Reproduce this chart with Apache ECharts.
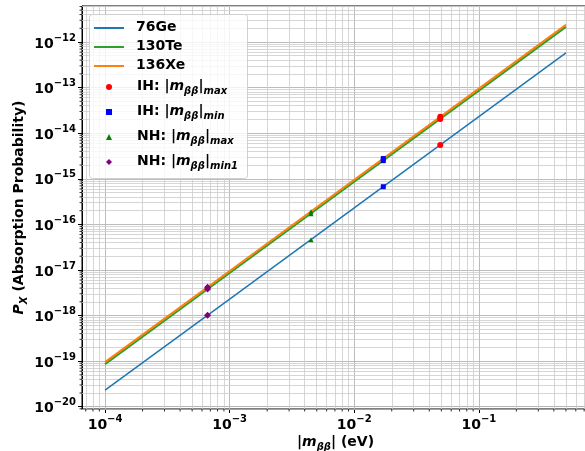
<!DOCTYPE html>
<html>
<head>
<meta charset="utf-8">
<script src="https://cdn.jsdelivr.net/npm/echarts@6/dist/echarts.min.js"></script>
<style>
  html, body { margin: 0; padding: 0; background: #fff; }
  #chart { width: 585px; height: 451px; }
</style>
</head>
<body>
<div id="chart"></div>
<script>
// |m_bb| values (eV) where each isotope curve is sampled
const massPoints = [1e-4, 1e-3, 1e-2, 1e-1, 0.5];
// Absorption probability P_X for each isotope
const ge76  = [2.3e-20, 2.3e-18, 2.3e-16, 2.3e-14, 5.75e-13];
const te130 = [8.6e-20, 8.6e-18, 8.6e-16, 8.6e-14, 2.15e-12];
const xe136 = [9.5e-20, 9.5e-18, 9.5e-16, 9.5e-14, 2.4e-12];

// Benchmark points: [|m_bb|, P_X] for 76Ge, 130Te, 136Xe
const ihMax  = [[0.049, 5.5e-15], [0.049, 2.06e-14], [0.049, 2.28e-14]];
const ihMin  = [[0.0171, 6.7e-16], [0.0171, 2.5e-15], [0.0171, 2.78e-15]];
const nhMax  = [[0.0045, 4.6e-17], [0.0045, 1.72e-16], [0.0045, 1.9e-16]];
const nhMin1 = [[6.65e-4, 1.02e-18], [6.65e-4, 3.8e-18], [6.65e-4, 4.2e-18]];

const lineNames = ['76Ge', '130Te', '136Xe'];
const pointNames = ['IH: |mββ|max', 'IH: |mββ|min', 'NH: |mββ|max', 'NH: |mββ|min1'];

// Axis ranges (log10 space)
const xLogRange = [-4.185, -0.116];
const yLogRange = [-20.05, -11.21];
const xMin = Math.pow(10, xLogRange[0]), xMax = Math.pow(10, xLogRange[1]);
const yMin = Math.pow(10, yLogRange[0]), yMax = Math.pow(10, yLogRange[1]);

const FONT = 'DejaVu Sans';

// Minor grid positions: 2..9 x 10^n inside each axis range
function minorValues(range) {
  const out = [];
  for (let e = Math.floor(range[0]); e <= Math.ceil(range[1]); e++) {
    for (let k = 2; k <= 9; k++) {
      const v = k * Math.pow(10, e);
      const lv = Math.log10(v);
      if (lv > range[0] && lv < range[1]) out.push(v);
    }
  }
  return out;
}

const tickRich = {
  b: { fontFamily: FONT, fontWeight: 'bold', fontSize: 14, color: '#000', lineHeight: 18, verticalAlign: 'bottom' },
  s: { fontFamily: FONT, fontWeight: 'bold', fontSize: 10, color: '#000', lineHeight: 10, verticalAlign: 'top' }
};
function powLabel(v) {
  const e = Math.round(Math.log10(v));
  return '{b|10}{s|' + (e < 0 ? '\u2212' : '') + Math.abs(e) + '}';
}

const mainTok = { fontFamily: FONT, fontWeight: 'bold', fontSize: 14, color: '#000', lineHeight: 16, verticalAlign: 'top' };
const subTok = { fontFamily: FONT, fontWeight: 'bold', fontStyle: 'italic', fontSize: 10, color: '#000', lineHeight: 11, padding: [7, 0, 0, 0], verticalAlign: 'top' };
const legendRichLines = {
  p: Object.assign({}, mainTok, { padding: [0, 0, 0, 7] })
};
const legendRichPoints = {
  p: Object.assign({}, mainTok, { padding: [0, 0, 0, 20] }),
  t: Object.assign({}, mainTok),
  m: Object.assign({}, mainTok, { fontStyle: 'italic' }),
  s: subTok
};
const legendText = {
  '76Ge': '{p|76Ge}',
  '130Te': '{p|130Te}',
  '136Xe': '{p|136Xe}',
  'IH: |mββ|max': '{p|IH: |}{m|m}{s|ββ}{t||}{s|max}',
  'IH: |mββ|min': '{p|IH: |}{m|m}{s|ββ}{t||}{s|min}',
  'NH: |mββ|max': '{p|NH: |}{m|m}{s|ββ}{t||}{s|max}',
  'NH: |mββ|min1': '{p|NH: |}{m|m}{s|ββ}{t||}{s|min1}'
};

function zip(xs, ys) { return xs.map((x, i) => [x, ys[i]]); }

const chart = echarts.init(document.getElementById('chart'), null, { renderer: 'canvas' });

const nameRich = {
  t: { fontFamily: FONT, fontWeight: 'bold', fontSize: 14, color: '#000', lineHeight: 16, verticalAlign: 'top' },
  m: { fontFamily: FONT, fontWeight: 'bold', fontStyle: 'italic', fontSize: 14, color: '#000', lineHeight: 16, verticalAlign: 'top' },
  s: subTok
};

// Minor grid lines as full-span segments in data coordinates
const minorX = minorValues(xLogRange);
const minorY = minorValues(yLogRange);
const minorGrid = minorX.map(v => [{ coord: [v, yMin] }, { coord: [v, yMax] }])
  .concat(minorY.map(v => [{ coord: [xMin, v] }, { coord: [xMax, v] }]));

// Short outward minor ticks on the bottom and left axes
const minorTickData = minorX.map(v => [v, yMin, 0]).concat(minorY.map(v => [xMin, v, 1]));
function renderMinorTick(params, api) {
  const p = api.coord([api.value(0), api.value(1)]);
  const onY = api.value(2) === 1;
  return {
    type: 'line',
    shape: onY ? { x1: p[0], y1: p[1], x2: p[0] - 2.5, y2: p[1] }
               : { x1: p[0], y1: p[1], x2: p[0], y2: p[1] + 2.5 },
    style: { stroke: '#000', lineWidth: 0.8 }
  };
}

const option = {
  animation: false,
  backgroundColor: '#fff',
  grid: { left: 82, top: 6, right: -4, bottom: 42, outerBoundsMode: 'none', containLabel: false,
          show: true, borderColor: '#000', borderWidth: 1, backgroundColor: 'transparent' },
  graphic: [{
    type: 'rect', left: 89, top: 14, z: 50,
    shape: { width: 158, height: 164, r: 3 },
    style: { fill: 'rgba(255,255,255,0.8)', stroke: '#d0d0d0', lineWidth: 1 }
  }],
  legend: [{
    data: lineNames.map(n => ({ name: n, icon: 'rect' })),
    orient: 'vertical', left: 94, top: 20, padding: 0,
    itemWidth: 30, itemHeight: 2, itemGap: 5, z: 60,
    formatter: n => legendText[n],
    textStyle: { rich: legendRichLines }
  }, {
    data: pointNames, orient: 'vertical', left: 106, top: 79, padding: 0,
    itemWidth: 6, itemHeight: 6, itemGap: 8, z: 60,
    formatter: n => legendText[n],
    textStyle: { rich: legendRichPoints }
  }],
  xAxis: {
    type: 'log', logBase: 10, min: xMin, max: xMax, splitNumber: 4,
    name: '{t||}{m|m}{s|ββ}{t|| (eV)}',
    nameLocation: 'middle', nameGap: 26, nameMoveOverlap: false,
    nameTextStyle: { rich: nameRich },
    axisLine: { show: true, lineStyle: { color: '#000', width: 1 } },
    axisTick: { show: true, inside: false, length: 4, lineStyle: { color: '#000' } },
    axisLabel: { margin: 5, showMinLabel: false, showMaxLabel: false, formatter: powLabel, rich: tickRich },
    splitLine: { show: true, lineStyle: { color: '#b4b4b4', width: 0.9 } }
  },
  yAxis: {
    type: 'log', logBase: 10, min: yMin, max: yMax, splitNumber: 9,
    name: '{m|P}{s|X}{t| (Absorption Probability)}',
    nameLocation: 'middle', nameGap: 54, nameRotate: 90, nameMoveOverlap: false,
    nameTextStyle: { rich: nameRich },
    axisLine: { show: true, lineStyle: { color: '#000', width: 1 } },
    axisTick: { show: true, inside: false, length: 4, lineStyle: { color: '#000' } },
    axisLabel: { margin: 6, showMinLabel: false, showMaxLabel: false, formatter: powLabel, rich: tickRich },
    splitLine: { show: true, lineStyle: { color: '#b4b4b4', width: 0.9 } }
  },
  series: [
    {
      name: 'minor-grid', type: 'line', data: [], z: 1, silent: true,
      markLine: {
        z: 1, silent: true, symbol: 'none', label: { show: false }, animation: false,
        lineStyle: { color: '#cccccc', width: 0.8, type: 'solid' },
        data: minorGrid
      }
    },
    {
      name: 'minor-ticks', type: 'custom', data: minorTickData, silent: true, clip: false, z: 5,
      encode: { x: 0, y: 1 },
      renderItem: renderMinorTick
    },
    { name: '76Ge', type: 'line', data: zip(massPoints, ge76), symbol: 'none', z: 3,
      lineStyle: { color: '#1f77b4', width: 1.5 }, itemStyle: { color: '#1f77b4' } },
    { name: '130Te', type: 'line', data: zip(massPoints, te130), symbol: 'none', z: 3,
      lineStyle: { color: '#2ca02c', width: 2 }, itemStyle: { color: '#2ca02c' } },
    { name: '136Xe', type: 'line', data: zip(massPoints, xe136), symbol: 'none', z: 3,
      lineStyle: { color: '#ff7f0e', width: 2 }, itemStyle: { color: '#ff7f0e' } },
    { name: pointNames[0], type: 'scatter', data: ihMax, symbol: 'circle', symbolSize: 6, z: 4,
      itemStyle: { color: '#ff0000', opacity: 1 } },
    { name: pointNames[1], type: 'scatter', data: ihMin, symbol: 'rect', symbolSize: 5, z: 4,
      itemStyle: { color: '#0000ff', opacity: 1 } },
    { name: pointNames[2], type: 'scatter', data: nhMax, symbol: 'triangle', symbolSize: 5, z: 4,
      itemStyle: { color: '#008000', opacity: 1 } },
    { name: pointNames[3], type: 'scatter', data: nhMin1, symbol: 'diamond', symbolSize: 7, z: 4,
      itemStyle: { color: '#800080', opacity: 1 } }
  ]
};

chart.setOption(option);
</script>
</body>
</html>
